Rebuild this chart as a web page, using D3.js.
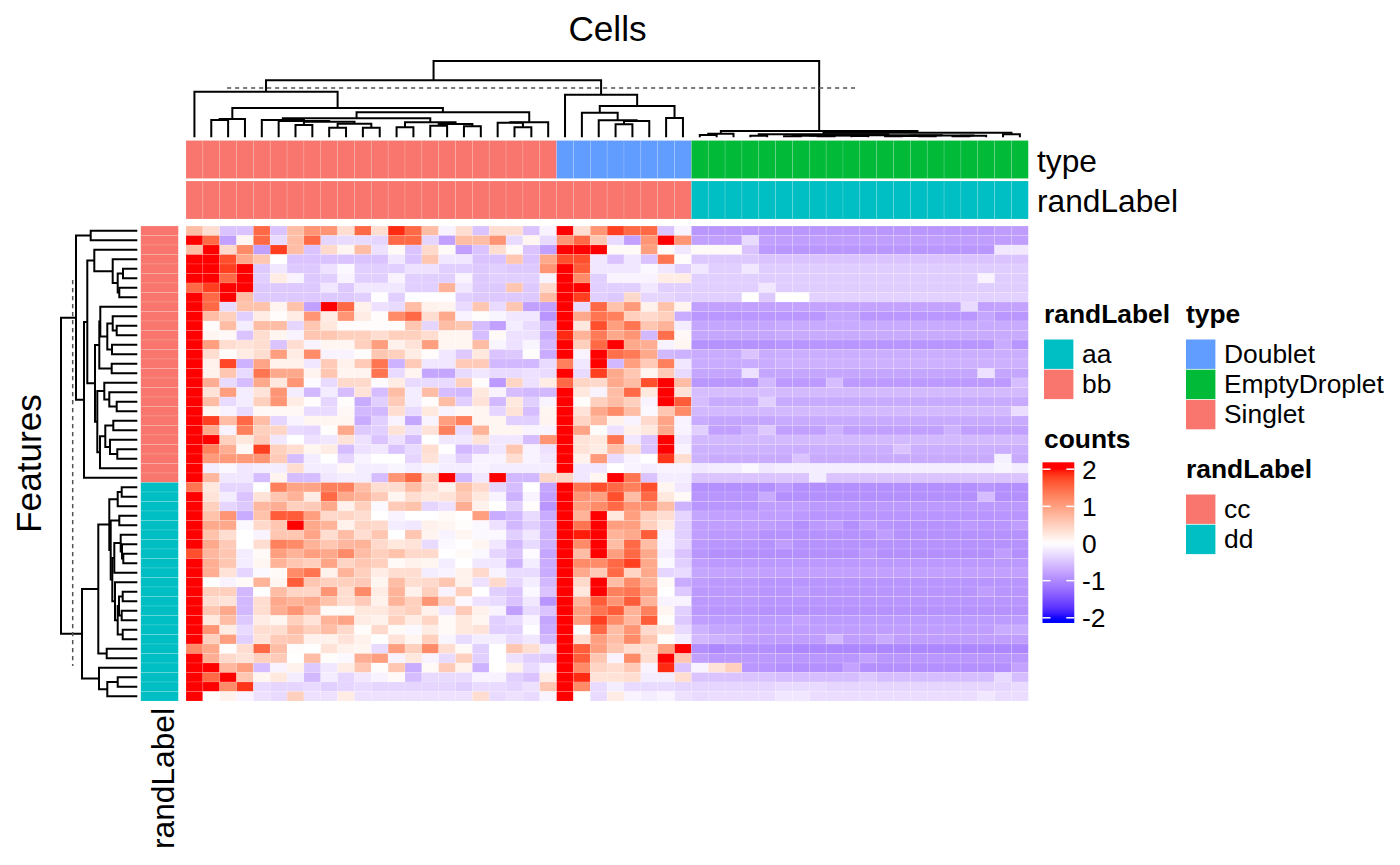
<!DOCTYPE html>
<html>
<head>
<meta charset="utf-8">
<script src="https://cdn.jsdelivr.net/npm/d3@7"></script>
<style>
html,body{margin:0;padding:0;background:#fff}
svg{display:block}
text{font-family:"Liberation Sans",Arial,sans-serif;fill:#000}
</style>
</head>
<body>
<svg id="c" width="1400" height="865"></svg>
<script>
// ---- heatmap values, rows top to bottom, columns left to right (22 Singlet, 8 Doublet, 20 EmptyDroplet)
const heatValues = [
[.7,.35,-.5,-.5,1.5,-.5,.7,1.1,1.1,.35,1.5,.35,1.9,1.5,.7,-.1,.35,-.5,.35,.35,-.5,-.1,2,.35,1.1,1.8,1.5,1.5,-.5,-.1,-.88,-.88,-.88,-.88,-.88,-.88,-.88,-.88,-.88,-.88,-.88,-.88,-.88,-.88,-.88,-.88,-.88,-.88,-.83,-.83],
[2,1.5,-.8,.1,1.5,-.3,.7,1.5,-.35,-.3,-.3,-.35,1.5,1.5,-.35,-.8,.7,.7,1.1,-.3,.1,-.3,1.1,1.5,.6,-.3,-.8,1.1,2,1.1,-.8,-.8,-.8,-.3,-.8,-.82,-.82,-.82,-.82,-.82,-.82,-.82,-.82,-.82,-.82,-.82,-.82,-.82,-.82,-.82],
[.7,2,.4,1.2,-.8,1.8,.7,-.5,.4,.1,.7,-.25,.05,-.5,.4,.05,-.8,-.5,.35,.05,-.5,-.8,2,2,2,.05,.05,1,.05,-.2,.05,.05,.05,-.5,-.85,-.88,-.88,-.88,-.88,-.88,-.88,-.88,-.88,-.88,-.88,-.88,-.88,-.88,-.2,-.2],
[2,2,1.7,.9,.6,0,-.5,-.5,-.5,-.5,-.5,-.5,-.2,-.5,.6,-.2,-.2,-.5,-.5,.6,-.5,.9,1.7,1.7,-.2,-.5,-.2,-.5,1.4,.03,-.45,-.45,-.45,-.45,-.5,-.5,-.5,-.5,-.5,-.5,-.5,-.5,-.5,-.5,-.5,-.5,-.5,-.5,-.5,-.5],
[2,2,1.8,2,-.45,-.2,-.45,-.45,-.25,-.05,-.4,-.4,-.4,-.25,-.25,-.4,-.4,-.45,-.4,-.45,-.45,1.1,2,1.6,-.2,-.2,-.2,-.05,-.2,-.4,-.2,-.4,-.4,-.2,-.42,-.42,-.42,-.42,-.42,-.42,-.42,-.42,-.42,-.42,-.42,-.42,-.42,-.42,-.42,-.42],
[2,2,1.5,2,-.4,.2,-.1,-.45,-.4,-.1,-.4,-.4,-.1,-.4,-.4,-.4,-.1,-.45,-.4,-.4,-.4,-.1,2,1.2,-.4,-.1,-.1,-.1,.2,.2,-.4,-.4,-.4,-.4,-.42,-.42,-.42,-.42,-.42,-.42,-.42,-.42,-.42,-.42,-.42,-.42,-.42,-.1,-.42,-.42],
[1.5,1.8,2,2,-.45,-.45,-.45,-.45,-.2,-.45,-.2,-.2,-.2,-.4,-.4,.8,-.2,-.45,-.45,.6,-.45,.4,2,2,-.4,-.4,-.4,-.2,-.4,-.4,-.4,-.4,-.4,-.4,-.2,-.42,-.42,-.42,-.42,-.42,-.42,-.42,-.42,-.42,-.42,-.42,-.42,-.42,-.42,-.42],
[2,1.5,2,.7,-.45,-.45,-.45,-.45,-.45,-.45,-.4,-.02,-.4,-.02,-.02,-.02,-.4,-.45,-.45,-.45,-.45,.7,2,1.8,-.4,-.45,.4,-.35,-.35,-.4,-.4,-.4,-.4,0,-.45,0,0,-.38,-.38,-.38,-.38,-.38,-.38,-.38,-.38,-.38,-.38,-.38,-.38,-.38],
[2,1.5,-.3,.65,.65,.12,.65,-.8,2,1.5,.15,-.25,-.3,.7,.15,.12,-.3,.6,-.3,.6,-.8,-.8,2,-.3,1.5,.65,1.05,.15,.65,.12,-.8,-.8,-.8,-.8,-.8,-.78,-.78,-.78,-.78,-.78,-.78,-.78,-.78,-.78,-.78,-.78,-.3,-.8,-.78,-.78],
[2,.7,.5,-.4,.2,.03,.2,1.1,.2,1.1,.2,.03,1.2,1.5,.35,.9,-.1,.02,-.08,-.2,-.2,-.9,2,.9,1.4,1.3,.5,.4,.5,-.7,-.88,-.88,-.88,-.88,-.88,-.88,-.88,-.88,-.75,-.75,-.88,-.88,-.88,-.88,-.88,-.88,-.88,-.75,-.88,-.88],
[2,.03,.7,-.15,.7,.7,-.35,.6,.25,.03,.03,.03,.03,.6,-.35,.7,.6,-.55,-.8,-.15,-.3,-.6,2,.25,1.7,1,1.4,.6,.8,-.15,-.75,-.75,-.75,-.75,-.75,-.72,-.72,-.72,-.72,-.72,-.72,-.72,-.72,-.72,-.72,-.72,-.72,-.72,-.72,-.72],
[2,.1,.07,-.5,.35,.1,-.1,.6,.6,.5,.5,.35,.5,.5,.35,.1,.1,-.55,.05,-.25,-.25,-.7,1.9,.8,1.35,.9,1.1,-.6,1.45,.07,-.75,-.75,-.75,-.75,-.75,-.72,-.72,-.72,-.72,-.72,-.72,-.72,-.72,-.72,-.72,-.72,-.72,-.72,-.72,-.72],
[2,1,.35,.3,.35,-.5,.35,-.1,.1,.1,.5,1,.15,.3,1,.1,.1,.7,-.08,-.25,-.08,-.6,2,.5,1.5,2,.9,.85,-.1,.1,-.92,-.92,-.92,-.92,-.92,-.9,-.9,-.9,-.9,-.9,-.9,-.9,-.9,-.9,-.9,-.9,-.9,-.9,-.7,-.9],
[2,.35,.03,.2,.35,1,.2,1.2,-.1,-.1,.02,.6,.5,.2,.03,-.2,-.45,.25,-.5,-.45,.02,-.7,2,-.1,2,1.45,1.35,.9,-.6,-.65,-.7,-.7,-.7,-.5,-.7,-.68,-.68,-.68,-.68,-.68,-.68,-.68,-.68,-.68,-.68,-.68,-.68,-.68,-.68,-.68],
[2,.15,1.75,-.65,.95,.15,.15,-.2,.55,.15,.55,1.4,-.65,.55,-.2,-.2,.55,.55,-.6,-.6,-.6,-.3,1.3,-.2,2,-.6,1,.55,1.3,-.2,-.7,-.7,-.7,-.7,-.7,-.66,-.66,-.66,-.66,-.66,-.66,-.66,-.66,-.66,-.66,-.66,-.66,-.66,-.66,-.66],
[2,.15,.6,-.3,1.4,.9,.9,.12,.6,.12,.12,1.4,-.3,.12,-.75,-.75,-.3,-.2,-.3,-.3,-.25,-.3,2,-.3,1.8,.9,.6,.1,.55,-.3,-.75,-.75,-.75,-.25,-.75,-.75,-.75,-.75,-.75,-.75,-.75,-.75,-.75,-.75,-.75,-.75,-.75,-.25,-.75,-.75],
[2,.85,-.3,-.55,.9,.25,1.1,-.03,-.3,.4,.4,-.03,.2,-.3,-.3,-.3,.5,.02,-.85,.45,-.25,.2,1.5,.45,.4,.9,.7,1.7,2,.7,-.88,-.88,-.88,-.88,-.6,-.85,-.85,-.85,-.55,-.85,-.85,-.85,-.85,-.85,-.85,-.85,-.85,-.85,-.85,-.55],
[2,.3,1,-.15,.3,1.1,-.15,-.6,-.15,-.55,.3,-.55,.7,-.15,.7,-.55,-.6,.25,-.1,-.55,-.6,-.6,2,.25,-.1,.7,1.5,.25,2,.3,-.55,-.55,-.55,-.55,-.55,-.58,-.58,-.58,-.58,-.58,-.58,-.58,-.58,-.58,-.58,-.58,-.58,-.58,-.58,-.58],
[2,.7,-.3,-.15,.5,1.1,.2,.03,-.35,.02,-.7,-.4,.55,-.15,.03,.7,-.4,.3,-.6,.25,-.4,-.1,2,.02,.5,.7,.5,-.1,2,1.6,-.55,-.7,-.7,-.7,-.4,-.72,-.72,-.72,-.72,-.72,-.72,-.72,-.72,-.72,-.72,-.72,-.72,-.72,-.72,-.72],
[2,.1,-.1,-.3,.07,.07,.07,-.3,-.3,.07,-.6,-.6,.35,-.3,.25,-.1,.07,.1,-.35,.3,-.55,.1,2,.3,.9,1.2,.7,-.05,.6,1.2,-.6,-.6,-.6,-.6,-.6,-.58,-.58,-.58,-.58,-.58,-.58,-.58,-.58,-.58,-.58,-.58,-.58,-.58,-.58,-.28],
[2,1.8,.7,1.5,.7,-.35,-.1,.1,.1,.1,-.7,-.4,-.1,-.75,-.1,1,1.3,.1,.1,-.4,-.4,.12,2,.45,.7,.15,-.1,.4,.95,-.1,-.7,-.75,-.75,-.75,-.75,-.72,-.72,-.72,-.72,-.72,-.72,-.72,-.72,-.72,-.72,-.72,-.72,-.72,-.72,-.72],
[2,.9,-.1,1.3,.5,.45,-.3,-.35,.02,.9,-.45,-.4,.3,-.25,.3,1.3,-.3,.8,.1,.1,-.1,-.1,2,.95,.02,-.25,.15,.25,.9,-.1,-.4,-.8,-.8,-.65,-.45,-.8,-.8,-.8,-.65,-.8,-.8,-.8,-.8,-.8,-.8,-.65,-.8,-.8,-.8,-.8],
[2,2,.5,.25,.55,-.2,0,-.25,-.2,.3,-.25,-.5,-.25,-.55,0,-.2,-.2,.3,-.2,-.2,-.55,1.1,2,.3,.25,1.4,-.2,-.5,2,-.2,-.6,-.6,-.6,-.6,-.6,-.58,-.58,-.58,-.58,-.58,-.58,-.58,-.58,-.58,-.58,-.58,-.58,-.58,-.58,-.58],
[2,1.3,.85,.07,1.8,.5,.35,.1,.2,-.55,-.25,-.2,-.5,-.3,.35,0,-.6,-.45,-.2,.6,-.1,-.25,2,.3,.2,.7,.35,-.5,2,-.1,-.65,-.65,-.65,-.65,-.65,-.68,-.68,-.68,-.68,-.68,-.68,-.68,-.5,-.68,-.68,-.68,-.68,-.68,-.68,-.68],
[2,1.05,1.05,1.05,1.1,.55,-.55,-.15,0,-.35,-.1,0,0,-.35,.3,-.15,-.4,-.1,-.1,.35,-.1,-.2,2,.15,1.05,-.3,-.1,0,1.85,.35,-.65,-.7,-.7,-.7,-.7,-.72,-.5,-.72,-.72,-.72,-.72,-.72,-.72,-.72,-.72,-.72,-.72,-.72,-.12,-.72],
[2,-.15,-.05,-.2,-.15,-.15,.35,-.15,-.15,.07,-.15,-.15,-.08,-.15,-.08,-.15,-.15,-.1,-.15,-.15,-.15,-.15,2,-.2,-.2,0,-.1,-.15,-.1,-.1,-.2,-.15,-.15,-.05,-.2,-.15,-.15,-.15,-.15,-.15,-.15,-.15,-.15,-.15,-.15,-.15,-.15,-.15,-.08,-.15],
[2,.75,-.2,-.2,-.55,.12,-.55,-.55,-.2,-.15,-.15,-.55,1.1,1.5,.45,2,-.6,-.2,2,-.6,-.6,.45,.45,-.2,.1,2,1.4,-.5,-.15,-.15,-.5,-.5,-.5,-.5,-.5,-.5,-.5,-.15,-.5,-.5,-.5,-.5,-.5,-.5,-.5,-.5,-.5,-.5,-.5,-.5],
[1.4,.25,-.35,-.35,0,1.3,.95,.95,1.3,1.3,.7,.35,.35,.7,.35,.15,.65,.4,-.35,-.55,0,-.75,2,1.4,1.7,1.5,1.3,1.7,.1,-.2,-.94,-.94,-.94,-.94,-.94,-.85,-.94,-.94,-.94,-.94,-.94,-.94,-.94,-.94,-.94,-.94,-.94,-.9,-.94,-.94],
[2,.3,-.15,-.5,.3,.6,.8,.2,1.5,.9,.8,.55,.1,.35,.25,.3,.55,.25,-.1,-.65,-.1,-.8,2,1.1,1,1.7,.7,1.5,.25,.05,-.9,-.9,-.9,-.9,-.72,-.94,-.94,-.94,-.94,-.94,-.94,-.94,-.94,-.94,-.94,-.94,-.94,-.55,-.94,-.94],
[2,.5,-.35,-.45,.75,.85,.5,.55,.9,.15,.5,-.05,.55,.65,-.35,-.25,.85,.15,0,-.4,.03,-.9,2,1,1.2,1.5,1.1,1.2,.7,-.65,-.9,-.9,-.9,-.9,-.82,-.82,-.82,-.86,-.86,-.86,-.86,-.86,-.86,-.86,-.86,-.86,-.86,-.86,-.86,-.86],
[2,.65,1.1,-.7,.65,1.6,1.6,1,.4,.45,.35,0,-.1,0,0,.05,0,1,-.7,-.6,-.3,-.7,2,.8,2,.25,1,.5,.35,-.35,-.75,-.8,-.8,-.8,-.82,-.82,-.86,-.9,-.9,-.9,-.9,-.9,-.9,-.9,-.9,-.9,-.9,-.9,-.9,-.9],
[2,.9,.9,-.05,.4,.6,2,.9,.8,.15,.45,.4,-.15,-.2,.15,.1,.02,-.05,-.25,-.6,-.4,-.65,2,1.4,2,1,1,.5,.2,-.4,-.82,-.82,-.82,-.82,-.82,-.86,-.94,-.86,-.82,-.94,-.82,-.9,-.92,-.92,-.92,-.92,-.85,-.9,-.9,-.82],
[2,.65,.35,0,-.1,.6,.6,.95,.35,.7,.35,.6,0,.6,.12,-.1,.1,-.05,-.05,-.4,-.2,-.65,2,1.95,2,.8,.9,1.6,-.1,-.4,-.82,-.86,-.86,-.86,-.92,-.92,-.92,-.92,-.92,-.92,-.92,-.82,-.92,-.92,-.92,-.92,-.92,-.92,-.92,-.92],
[2,.9,.55,0,.35,1.3,1.2,.8,.6,.75,.8,.4,.25,.3,-.3,-.05,-.02,.1,-.2,-.6,-.3,-.65,2,1.2,2,.7,1.5,.7,-.1,-.35,-.86,-.9,-.9,-.9,-.92,-.82,-.92,-.92,-.92,-.92,-.92,-.92,-.92,-.92,-.92,-.92,-.92,-.92,-.92,-.92],
[1.7,.75,.6,-.15,.05,1,.8,1,.9,1.2,.7,.5,.65,.4,.4,0,.05,-.05,-.35,-.5,-.03,-.75,2,.7,2,1,1.5,.9,-.15,-.5,-.9,-.94,-.94,-.94,-.94,-.94,-.94,-.94,-.94,-.94,-.86,-.94,-.94,-.94,-.94,-.94,-.94,-.94,-.82,-.94],
[2,.85,.6,-.15,.1,.8,.6,.5,.95,.45,.6,.5,.05,.15,.1,-.15,0,-.2,-.2,-.65,-.15,-.7,2,1.2,1.2,1.5,1.8,.9,-.05,-.4,-.82,-.86,-.86,-.86,-.86,-.86,-.86,-.86,-.86,-.86,-.86,-.86,-.86,-.86,-.86,-.86,-.86,-.86,-.86,-.86],
[2,.85,.3,-.35,-.05,.05,1.2,1.4,.15,.8,.5,.2,.35,.35,-.15,-.1,.15,.4,-.1,-.3,-.3,-.7,2,.9,.55,1.5,.45,.9,-.35,-.3,-.75,-.78,-.78,-.78,-.8,-.8,-.8,-.8,-.8,-.8,-.8,-.8,-.8,-.8,-.8,-.8,-.8,-.8,-.8,-.8],
[2,0,-.1,.05,.8,.1,1.6,.6,.5,.5,.55,.1,.7,.35,.4,.6,.15,-.25,.4,-.35,-.15,-.6,2,.4,2,.7,1.2,.8,.05,-.7,-.82,-.86,-.86,-.86,-.89,-.89,-.89,-.89,-.89,-.89,-.89,-.89,-.89,-.89,-.89,-.89,-.89,-.89,-.89,-.89],
[2,.5,.5,-.6,0,.7,.45,.45,1.1,.35,1.2,.2,.8,.15,.5,-.1,.5,0,-.4,-.5,-.05,-.5,2,.25,2,1.3,1.4,1,0,-.45,-.86,-.86,-.86,-.86,-.9,-.9,-.84,-.9,-.9,-.9,-.9,-.9,-.9,-.9,-.9,-.9,-.9,-.82,-.9,-.9],
[2,.35,.3,-.6,.35,.9,.8,.9,.65,.35,.55,.15,.8,.5,1.1,.5,-.05,-.25,-.3,-.5,-.2,-.9,2,.8,1.6,1.1,1.6,.8,-.1,-.1,-.86,-.86,-.86,-.86,-.89,-.89,-.89,-.89,-.89,-.89,-.89,-.89,-.89,-.89,-.89,-.89,-.89,-.89,-.89,-.89],
[2,.6,.9,-.6,.35,.85,1.1,.75,.05,.05,.25,.25,.4,.5,.15,-.2,.55,.15,-.1,-.8,-.3,-.5,2,1,1.4,1.6,.8,1.3,.1,-.4,-.86,-.9,-.9,-.9,-.92,-.92,-.92,-.92,-.92,-.92,-.92,-.92,-.92,-.92,-.92,-.92,-.92,-.92,-.92,-.92],
[2,.25,.7,-.45,.2,.1,.5,.3,.8,.95,.2,.15,.5,.2,.45,.05,.25,.1,-.4,-.3,-.1,-.75,2,1,1.8,1.2,.75,1.6,.02,-.45,-.82,-.84,-.84,-.84,-.84,-.84,-.78,-.84,-.84,-.84,-.84,-.84,-.84,-.84,-.84,-.84,-.84,-.84,-.84,-.84],
[2,1.1,.2,-.3,.35,.35,.7,.5,.7,.4,.02,.4,.05,-.05,.2,.05,.25,.3,-.4,-.4,-.02,-.7,2,0,1.5,.7,1.1,.4,.3,-.3,-.65,-.75,-.75,-.82,-.82,-.82,-.82,-.82,-.82,-.82,-.82,-.82,-.82,-.82,-.82,-.82,-.82,-.82,-.7,-.7],
[2,.5,1,-.4,.3,.55,.6,.15,.15,.3,.15,0,.3,.1,.5,-.08,-.3,-.15,-.15,-.3,-.2,-.6,2,.35,1,.7,1.2,.6,.02,-.15,-.6,-.65,-.7,-.8,-.82,-.82,-.82,-.82,-.6,-.82,-.82,-.7,-.82,-.82,-.82,-.82,-.82,-.82,-.82,-.82],
[1.2,.9,.03,.35,1.5,.7,.03,0,.3,.15,.1,-.3,1,.5,1.2,.35,.05,-.4,0,.6,.35,-.2,2,1.6,1,.6,.35,.35,1,2,-.95,-1.02,-.95,-.95,-.95,-1,-1.02,-1.02,-1.02,-1.02,-1.02,-1.02,-1.02,-1.02,-1.02,-1.02,-1.02,-1.02,-1.02,-1.02],
[2,.85,.4,.3,.5,.55,0,.7,.02,-.05,.85,1,-.1,.25,-.1,-.3,.5,-.4,0,-.25,-.4,-.45,2,1.6,.6,-.1,1.2,.35,2,.6,-.8,-.86,-.86,-.86,-.86,-.88,-.88,-.88,-.88,-.88,-.78,-.88,-.88,-.88,-.88,-.88,-.88,-.88,-.88,-.88],
[2,2,.75,1,-.55,-.1,.15,-.45,-.2,.2,.6,.03,.6,-.7,.05,.55,.15,-.65,0,.15,-.3,-.1,2,1.2,.45,.35,.55,-.1,1.9,-.5,-.1,.3,.5,-.88,-.9,-.94,-.94,-.94,-.94,-.78,-.94,-.94,-.94,-.94,-.94,-.94,-.94,-.94,-.94,-.78],
[2,1.5,2,.6,.1,.25,-.15,-.6,-.15,-.35,-.2,-.1,.05,-.55,-.3,-.3,-.3,-.1,-.1,-.4,-.5,.2,2,1.9,.3,.3,.35,-.15,-.15,.35,-.5,-.5,-.5,-.5,-.5,-.55,-.55,-.55,-.55,-.55,-.45,-.55,-.55,-.55,-.55,-.55,-.55,-.55,-.3,-.55],
[2,2,1.2,1.85,-.3,-.35,-.35,-.3,-.4,-.35,-.3,-.35,-.35,-.35,-.35,-.35,-.4,-.3,-.3,-.35,-.25,.6,2,1.2,-.3,-.15,-.3,-.3,-.3,-.35,-.35,-.35,-.35,-.35,-.35,-.3,-.3,-.3,-.35,-.35,-.35,-.35,-.35,-.35,-.35,-.35,-.35,-.35,-.35,-.3],
[2,.03,.15,-.1,-.25,-.3,.5,-.25,-.25,.2,-.25,-.25,-.25,-.25,-.25,-.25,-.25,.35,-.3,-.25,-.3,-.1,2,0,-.3,.2,-.1,-.15,-.1,-.25,-.3,-.28,-.28,-.28,-.28,-.2,-.2,-.28,-.28,-.28,-.28,-.28,-.28,-.28,-.28,-.28,-.28,-.2,-.28,-.28]
];

// ---- annotation runs
const typeRuns = [["Singlet",22],["Doublet",8],["EmptyDroplet",20]];
const colRandRuns = [["bb",30],["aa",20]];
const rowRandRuns = [["cc",27],["dd",23]];
const typeLegend = ["Doublet","EmptyDroplet","Singlet"];
const randLegendCols = ["aa","bb"];
const randLegendRows = ["cc","dd"];
const colorTicks = [2,1,0,-1,-2];

// ---- dendrograms: [height, left, right], a number is a leaf index
const colTree = [76.3,
  [57,
    [45.6, 0,
      [29.3,
        [18.3,[17.3,1,2],3],
        [25,
          [19,
            [17.3,4,[16.3,5,[15.6,[12.3,6,7],[13.6,[9.6,8,9],[9.6,10,11]]]]],
            [15,[10,12,13],[13.3,[11.6,14,15],[11,16,17]]]],
          [15,[14.5,18,[10,19,20]],21]]]],
    [42.6, 22,
      [31.3,
        [24.6,23,[17,24,[16.3,[13,25,26],27]]],
        [19.3,28,29]]]],
  [6.3,
    [3.6,[2.3,30,31],32],
    [4.6,
      [3.1,[1.6,33,34],
        [2.1,
          [1.8,[1.5,[1,35,36],[1.1,37,38]],[1.2,39,40]],
          [1.7,[1.4,[1,41,42],[1.1,43,44]],[1.5,[1,45,46],47]]]],
      [3,48,49]]]];

const rowTree = [76.3,
  [61.3,
    [46.6,0,1],
    [53.3,
      [50,
        [43,2,[24.6,3,[19.6,[14.3,4,5],[18,6,7]]]],
        [42.3,
          [38,
            [37,8,[30,[24.6,9,[20.6,10,11]],[25.3,12,13]]],
            [25.6,14,15]],
          [40,
            [33,16,[28,17,[20.6,18,19]]],
            [37.3,
              [32,[24,20,21],[27.3,22,[20,23,24]]],
              25]]]],
      26]],
  [55.3,
    [39,
      [28,
        [19.6,[15.6,27,28],29],
        [26.6,
          [18,30,31],
          [25,
            [23,[16.6,32,[15.3,33,[14,34,35]]],36],
            [22.3,37,[19.6,[18.3,[14.6,38,39],[15.6,40,41]],[14.6,42,43]]]]]],
      [30.6,44,45]],
    [38.3,
      46,
      [30,[19.6,47,48],49]]]];

// ---- colours
const annotationColors = {Singlet:"#F8766D",Doublet:"#619CFF",EmptyDroplet:"#00BA38",aa:"#00BFC4",bb:"#F8766D",cc:"#F8766D",dd:"#00BFC4"};

const svg = d3.select("#c");
const nR = heatValues.length, nC = heatValues[0].length;

const x = d3.scaleBand().domain(d3.range(nC)).range([186,1028.3]);
const y = d3.scaleBand().domain(d3.range(nR)).range([226,701]);
const color = d3.scaleLinear().domain([-2,0,2]).range(["#0000ff","#ffffff","#ff0000"]).interpolate(d3.interpolateLab).clamp(true);
const grid = {stroke:"#fff","stroke-opacity":.2,"stroke-width":.7};

function applyGrid(s){ Object.entries(grid).forEach(([k,v])=>s.attr(k,v)); return s; }

// heatmap
const flat = heatValues.flatMap((r,i)=>r.map((v,j)=>({i,j,v})));
applyGrid(svg.append("g").selectAll("rect").data(flat).join("rect")
  .attr("x",d=>x(d.j)).attr("y",d=>y(d.i))
  .attr("width",x.bandwidth()).attr("height",y.bandwidth())
  .attr("fill",d=>color(d.v)));

function expand(runs){ return runs.flatMap(([k,n])=>d3.range(n).map(()=>k)); }

// column annotations
function colAnno(runs,top,bottom){
  applyGrid(svg.append("g").selectAll("rect").data(expand(runs)).join("rect")
    .attr("x",(d,i)=>x(i)).attr("y",top).attr("width",x.bandwidth()).attr("height",bottom-top)
    .attr("fill",d=>annotationColors[d]));
}
colAnno(typeRuns,140.5,178.5);
colAnno(colRandRuns,181,219);

// row annotation
applyGrid(svg.append("g").selectAll("rect").data(expand(rowRandRuns)).join("rect")
  .attr("x",140.8).attr("y",(d,i)=>y(i)).attr("width",37.5).attr("height",y.bandwidth())
  .attr("fill",d=>annotationColors[d]));

// dendrograms
const colH = d3.scaleLinear().domain([0,76.3]).range([137.3,61]);
const rowH = d3.scaleLinear().domain([0,76.3]).range([137.3,61]);
function layoutTree(node,leafPos,out){
  if(typeof node==="number") return {p:leafPos(node),h:0};
  const l=layoutTree(node[1],leafPos,out), r=layoutTree(node[2],leafPos,out);
  out.push({h:node[0],l,r});
  return {p:(l.p+r.p)/2,h:node[0]};
}
const dendroStyle = g=>g.attr("fill","none").attr("stroke","#000").attr("stroke-width",2).attr("stroke-linejoin","miter").attr("stroke-linecap","butt");

const colSeg=[]; layoutTree(colTree,i=>x(i)+x.bandwidth()/2,colSeg);
svg.append("g").call(dendroStyle).selectAll("path").data(colSeg).join("path")
  .attr("d",d=>`M${d.l.p},${colH(d.l.h)}V${colH(d.h)}H${d.r.p}V${colH(d.r.h)}`);

const rowSeg=[]; layoutTree(rowTree,i=>y(i)+y.bandwidth()/2,rowSeg);
svg.append("g").call(dendroStyle).selectAll("path").data(rowSeg).join("path")
  .attr("d",d=>`M${rowH(d.l.h)},${d.l.p}H${rowH(d.h)}V${d.r.p}H${rowH(d.r.h)}`);

// cut lines
const dash = s=>s.attr("stroke","#555").attr("stroke-width",1.5).attr("stroke-dasharray","4.2 3.8");
svg.append("line").attr("x1",227).attr("x2",855).attr("y1",88).attr("y2",88).call(dash);
svg.append("line").attr("x1",72.7).attr("x2",72.7).attr("y1",280).attr("y2",666).call(dash);

// titles
const T = (t,px,py,size,weight,anchor,rot)=>{
  const e=svg.append("text").text(t).attr("font-size",size).attr("font-weight",weight||"normal").attr("text-anchor",anchor||"start");
  if(rot) e.attr("transform",`translate(${px},${py}) rotate(-90)`); else e.attr("x",px).attr("y",py);
  return e;
};
T("Cells",607.5,41,35.2,"normal","middle");
T("Features",41,463.5,35.2,"normal","middle",true);
T("type",1037,172,31.7);
T("randLabel",1037,212,31.7);
T("randLabel",173.5,708,31.7,"normal","end",true);

// legends
const LEG=26.4;
function catLegend(title,items,lx,titleY,firstTop){
  T(title,lx,titleY,LEG,"bold");
  items.forEach((k,i)=>{
    svg.append("rect").attr("x",lx).attr("y",firstTop+i*30.2).attr("width",29.4).attr("height",29.4).attr("fill",annotationColors[k]);
    T(k,lx+38,firstTop+i*30.2+23.2,LEG);
  });
}
catLegend("randLabel",randLegendCols,1044,323,339.5);
catLegend("type",typeLegend,1186,323,339.5);
catLegend("randLabel",randLegendRows,1186,478,494.5);

T("counts",1044,448,LEG,"bold");
const barY = d3.scaleLinear().domain([2,-2]).range([469.2,617.8]);
const defs = svg.append("defs");
const grad = defs.append("linearGradient").attr("id","cbar").attr("x1",0).attr("x2",0).attr("y1",0).attr("y2",1);
const barTop=462.3, barBot=623;
d3.range(0,1.0001,0.02).forEach(t=>{
  const v=barY.invert(barTop+t*(barBot-barTop));
  grad.append("stop").attr("offset",t).attr("stop-color",color(v));
});
svg.append("rect").attr("x",1042.5).attr("y",barTop).attr("width",31.8).attr("height",barBot-barTop).attr("fill","url(#cbar)");
colorTicks.forEach(v=>{
  const ty=barY(v);
  if(v!==0){
    svg.append("line").attr("x1",1042.5).attr("x2",1050.5).attr("y1",ty).attr("y2",ty).attr("stroke","#fff").attr("stroke-width",1.5);
    svg.append("line").attr("x1",1066.3).attr("x2",1074.3).attr("y1",ty).attr("y2",ty).attr("stroke","#fff").attr("stroke-width",1.5);
  }
  T(String(v),1082,ty+9.5,LEG);
});
</script>
</body>
</html>
